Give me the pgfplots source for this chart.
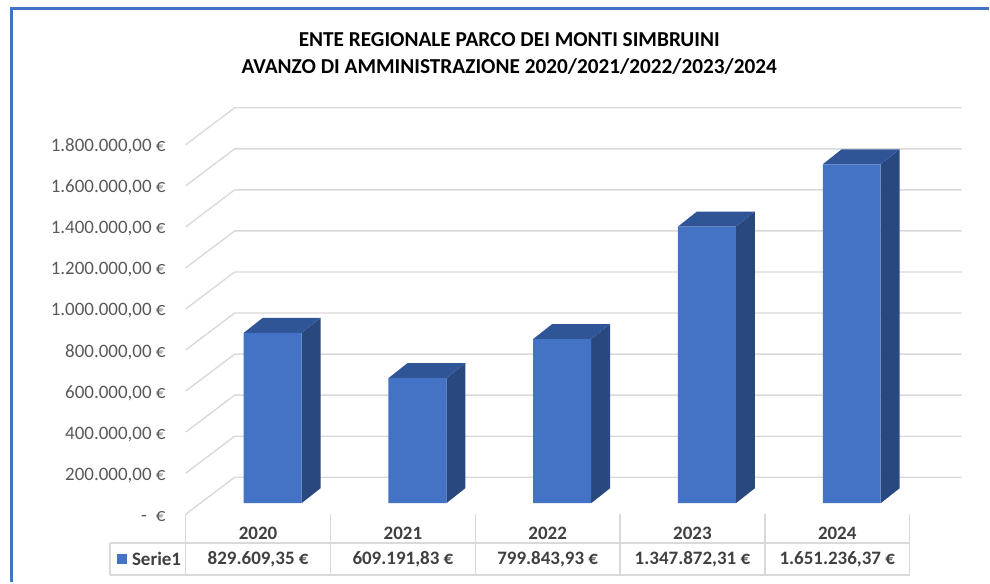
\documentclass[border=0pt]{standalone}
\usepackage{pgfplots}
\pgfplotsset{compat=1.18}
\usepackage{fontspec}
\setmainfont{Carlito}
\definecolor{frontc}{HTML}{4472C4}
\definecolor{sidec}{HTML}{294880}
\definecolor{topc}{HTML}{2F5597}
\definecolor{gridc}{HTML}{D9D9D9}
\definecolor{tickc}{HTML}{595959}
\definecolor{tabc}{HTML}{404040}
\begin{document}
\begin{tikzpicture}[x=1pt,y=1pt]
% fixed canvas, 1pt = 1px, y measured from bottom (583 - px)
\path (0,0) rectangle (990,583);
% frame
\draw[frontc, line width=3pt] (12,0) -- (12,574) -- (990,574);
% gridlines: left wall diagonals and back wall lines
\foreach \k in {0,...,9}{
  \pgfmathsetmacro{\fy}{583-515+41.12*\k}
  \pgfmathsetmacro{\by}{583-478+41.12*\k}
  \draw[gridc, line width=1.4pt] (186,\fy) -- (235,\by) -- (963,\by);
}
% tick labels
\foreach \k/\lab in {1/{200.000,00 €},2/{400.000,00 €},3/{600.000,00 €},4/{800.000,00 €},5/{1.000.000,00 €},6/{1.200.000,00 €},7/{1.400.000,00 €},8/{1.600.000,00 €},9/{1.800.000,00 €}}{
  \pgfmathsetmacro{\ly}{583-517+41.12*\k}
  \node[anchor=east, inner sep=0pt, text=tickc, font=\fontsize{19}{22}\selectfont] at (166,\ly) {\lab};
}
\node[anchor=east, inner sep=0pt, text=tickc, font=\fontsize{19}{22}\selectfont] at (166,583-517) {-\hspace{9pt}€};
\begin{axis}[
  at={(0,0)}, anchor=south west,
  scale only axis, width=990pt, height=583pt,
  xmin=-1.88276, xmax=4.94483,
  ymin=-384241, ymax=2451362,
  hide axis, clip=false,
]
% side faces
\addplot[fill=sidec, draw=none] coordinates {(0.2,0) (0.331,73000) (0.331,902609.35) (0.2,829609.35)} -- cycle;
\addplot[fill=sidec, draw=none] coordinates {(1.2,0) (1.331,73000) (1.331,682191.83) (1.2,609191.83)} -- cycle;
\addplot[fill=sidec, draw=none] coordinates {(2.2,0) (2.331,73000) (2.331,872843.93) (2.2,799843.93)} -- cycle;
\addplot[fill=sidec, draw=none] coordinates {(3.2,0) (3.331,73000) (3.331,1420872.31) (3.2,1347872.31)} -- cycle;
\addplot[fill=sidec, draw=none] coordinates {(4.2,0) (4.331,73000) (4.331,1724236.37) (4.2,1651236.37)} -- cycle;
% top faces
\addplot[fill=topc, draw=none] coordinates {(-0.2,829609.35) (-0.069,902609.35) (0.331,902609.35) (0.2,829609.35)} -- cycle;
\addplot[fill=topc, draw=none] coordinates {(0.8,609191.83) (0.931,682191.83) (1.331,682191.83) (1.2,609191.83)} -- cycle;
\addplot[fill=topc, draw=none] coordinates {(1.8,799843.93) (1.931,872843.93) (2.331,872843.93) (2.2,799843.93)} -- cycle;
\addplot[fill=topc, draw=none] coordinates {(2.8,1347872.31) (2.931,1420872.31) (3.331,1420872.31) (3.2,1347872.31)} -- cycle;
\addplot[fill=topc, draw=none] coordinates {(3.8,1651236.37) (3.931,1724236.37) (4.331,1724236.37) (4.2,1651236.37)} -- cycle;
% front faces
\addplot[ybar, bar width=0.4, fill=frontc, draw=none] coordinates {(0,829609.35) (1,609191.83) (2,799843.93) (3,1347872.31) (4,1651236.37)};
\end{axis}
% title
\node[font=\bfseries\fontsize{21.3}{25}\selectfont, text=black] at (510,583-40) {ENTE REGIONALE PARCO DEI MONTI SIMBRUINI};
\node[font=\bfseries\fontsize{21.3}{25}\selectfont, text=black] at (510,583-67) {AVANZO DI AMMINISTRAZIONE 2020/2021/2022/2023/2024};
% data table
\foreach \x in {186,331,476,621,766,911}{
  \draw[gridc, line width=1.4pt] (\x,583-515) -- (\x,583-576);
}
\draw[gridc, line width=1.4pt] (110,583-544) -- (911,583-544);
\draw[gridc, line width=1.4pt] (110,583-576) -- (911,583-576);
\draw[gridc, line width=1.4pt] (110,583-544) -- (110,583-576);
\foreach \cx/\yr/\val in {258.5/2020/{829.609,35 €},403.5/2021/{609.191,83 €},548.5/2022/{799.843,93 €},693.5/2023/{1.347.872,31 €},838.5/2024/{1.651.236,37 €}}{
  \node[font=\bfseries\fontsize{19}{22}\selectfont, text=tabc] at (\cx,583-534) {\yr};
  \node[font=\bfseries\fontsize{19}{22}\selectfont, text=tabc] at (\cx,583-560) {\val};
}
\fill[frontc] (117,583-555) rectangle (127,583-565);
\node[anchor=west, inner sep=0pt, font=\bfseries\fontsize{19}{22}\selectfont, text=tabc] at (132,583-560) {Serie1};
\end{tikzpicture}
\end{document}
